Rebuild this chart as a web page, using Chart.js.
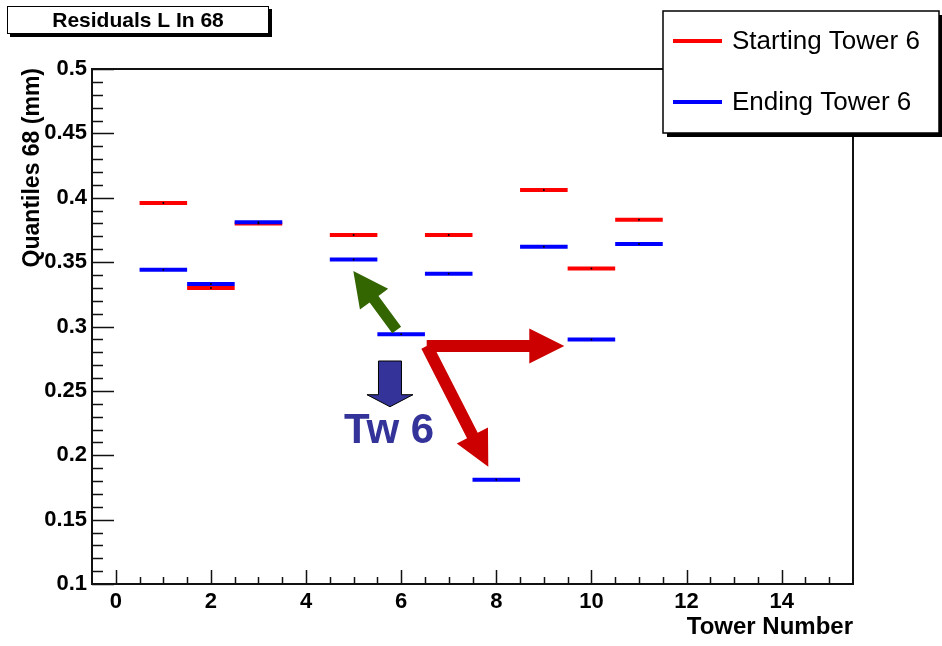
<!DOCTYPE html>
<html>
<head>
<meta charset="utf-8">
<script src="https://cdn.jsdelivr.net/npm/chart.js@4.4.1/dist/chart.umd.min.js"></script>
<style>
  body { margin: 0; background: #fff; }
  canvas { display: block; }
</style>
</head>
<body>
<canvas id="chart" width="942" height="646"></canvas>
<script>
// Tower bins (one bin per tower, width 1)
const towers = [0, 1, 2, 3, 4, 5, 6, 7, 8, 9, 10, 11, 12, 13, 14, 15];
const startingTower6 = [null, 0.396, 0.330, 0.380, null, 0.371, null, 0.371, null, 0.406, 0.345, 0.383, null, null, null, null];
const endingTower6 = [null, 0.344, 0.333, 0.381, null, 0.352, 0.294, 0.341, 0.181, 0.362, 0.290, 0.364, null, null, null, null];

// Axis tick labels
const xTickValues = [0, 2, 4, 6, 8, 10, 12, 14];
const yTickValues = [0.1, 0.15, 0.2, 0.25, 0.3, 0.35, 0.4, 0.45, 0.5];

const FONT = '"Liberation Sans", Arial, Helvetica, sans-serif';

// Build horizontal bin segments (gap between bins via null points)
function binSegments(values) {
    const pts = [];
    towers.forEach((t, i) => {
        if (values[i] == null) return;
        pts.push({ x: t - 0.5, y: values[i] });
        pts.push({ x: t + 0.5, y: values[i] });
        pts.push({ x: t + 0.5, y: null });
    });
    return pts;
}

function binCenters(values) {
    return towers.map((t, i) => ({ x: t, y: values[i] })).filter(p => p.y != null);
}

function arrow(ctx, x0, y0, x1, y1, shaft, headLen, headHalf, fill, stroke) {
    const dx = x1 - x0, dy = y1 - y0;
    const len = Math.hypot(dx, dy);
    const ux = dx / len, uy = dy / len;
    const nx = -uy, ny = ux;
    const bx = x1 - ux * headLen, by = y1 - uy * headLen;
    const s = shaft / 2;
    ctx.beginPath();
    ctx.moveTo(x0 + nx * s, y0 + ny * s);
    ctx.lineTo(bx + nx * s, by + ny * s);
    ctx.lineTo(bx + nx * headHalf, by + ny * headHalf);
    ctx.lineTo(x1, y1);
    ctx.lineTo(bx - nx * headHalf, by - ny * headHalf);
    ctx.lineTo(bx - nx * s, by - ny * s);
    ctx.lineTo(x0 - nx * s, y0 - ny * s);
    ctx.closePath();
    ctx.fillStyle = fill;
    ctx.fill();
    if (stroke) {
        ctx.strokeStyle = stroke;
        ctx.lineWidth = 1;
        ctx.stroke();
    }
}

// Frame, inside ticks, annotations, title box, legend, axis titles
const rootStyle = {
    id: 'rootStyle',
    afterDraw(chart) {
        const ctx = chart.ctx;
        const area = chart.chartArea;
        const xs = chart.scales.x, ys = chart.scales.y;
        ctx.save();

        // frame
        ctx.strokeStyle = '#111';
        ctx.lineWidth = 2;
        ctx.strokeRect(area.left, area.top, area.right - area.left, area.bottom - area.top);

        // y ticks (inside)
        ctx.lineWidth = 1.5;
        ctx.beginPath();
        for (let k = 10; k <= 50; k++) {
            const py = Math.round(ys.getPixelForValue(k / 100)) + 0.5;
            const len = k % 5 === 0 ? 22 : 11;
            ctx.moveTo(area.left, py);
            ctx.lineTo(area.left + len, py);
        }
        // x ticks (inside)
        for (let k = 0; k <= 30; k++) {
            const v = k / 2;
            const px = Math.round(xs.getPixelForValue(v)) + 0.5;
            const len = v % 2 === 0 ? 14 : 7;
            ctx.moveTo(px, area.bottom);
            ctx.lineTo(px, area.bottom - len);
        }
        ctx.stroke();

        // annotations
        const X = v => xs.getPixelForValue(v), Y = v => ys.getPixelForValue(v);
        arrow(ctx, X(5.906), Y(0.2973), X(4.994), Y(0.3431), 11, 35, 17.5, '#336600');
        arrow(ctx, X(6.537), Y(0.2849), X(9.43), Y(0.2849), 12, 35, 17.5, '#cc0000');
        arrow(ctx, X(6.537), Y(0.2849), X(7.832), Y(0.1911), 12, 35, 17.5, '#cc0000');
        arrow(ctx, X(5.765), Y(0.2732), X(5.765), Y(0.2377), 23, 12, 23, '#333399', '#000');
        ctx.fillStyle = '#333399';
        ctx.font = 'bold 42px ' + FONT;
        ctx.textAlign = 'left';
        ctx.textBaseline = 'alphabetic';
        ctx.fillText('Tw 6', X(4.798), Y(0.2095));

        // title box
        ctx.fillStyle = '#000';
        ctx.fillRect(10, 9, 262, 28);
        ctx.fillStyle = '#fff';
        ctx.fillRect(7, 6, 262, 28);
        ctx.strokeStyle = '#000';
        ctx.lineWidth = 1;
        ctx.strokeRect(7.5, 6.5, 261, 27);
        ctx.fillStyle = '#000';
        ctx.font = 'bold 21px ' + FONT;
        ctx.textAlign = 'center';
        ctx.textBaseline = 'middle';
        ctx.fillText('Residuals L In 68', 138, 21);

        // legend box
        const lx = 663, ly = 11, lw = 276, lh = 122;
        ctx.fillStyle = '#000';
        ctx.fillRect(lx + 4, ly + 4, lw, lh);
        ctx.fillStyle = '#fff';
        ctx.fillRect(lx, ly, lw, lh);
        ctx.strokeStyle = '#000';
        ctx.lineWidth = 1.5;
        ctx.strokeRect(lx, ly, lw, lh);
        const entries = chart.data.datasets.filter(d => d.label).sort((a, b) => a.legendIndex - b.legendIndex);
        entries.forEach((d, i) => {
            const ey = 41 + i * 61;
            ctx.strokeStyle = d.borderColor;
            ctx.lineWidth = 4;
            ctx.beginPath();
            ctx.moveTo(673, ey);
            ctx.lineTo(722, ey);
            ctx.stroke();
            ctx.fillStyle = '#000';
            ctx.font = '26px ' + FONT;
            ctx.textAlign = 'left';
            ctx.textBaseline = 'middle';
            ctx.fillText(d.label, 732, ey + 1);
        });

        // axis titles
        ctx.fillStyle = '#000';
        ctx.font = 'bold 24px ' + FONT;
        ctx.textAlign = 'right';
        ctx.textBaseline = 'alphabetic';
        ctx.fillText('Tower Number', area.right, 634);
        ctx.save();
        ctx.translate(39, area.top - 1);
        ctx.rotate(-Math.PI / 2);
        ctx.font = 'bold 23px ' + FONT;
        ctx.textAlign = 'right';
        ctx.fillText('Quantiles 68 (mm)', 0, 0);
        ctx.restore();

        ctx.restore();
    }
};

const ctx = document.getElementById('chart').getContext('2d');
const chart = new Chart(ctx, {
    type: 'line',
    data: {
        datasets: [
            {
                label: 'Ending Tower 6',
                legendIndex: 1,
                data: binSegments(endingTower6),
                borderColor: '#0000ff',
                borderWidth: 4,
                borderCapStyle: 'butt',
                pointRadius: 0,
                spanGaps: false,
                order: 2
            },
            {
                label: 'Starting Tower 6',
                legendIndex: 0,
                data: binSegments(startingTower6),
                borderColor: '#ff0000',
                borderWidth: 4,
                borderCapStyle: 'butt',
                pointRadius: 0,
                spanGaps: false,
                order: 3
            },
            {
                data: binCenters(endingTower6),
                showLine: false,
                pointRadius: 1,
                pointBorderWidth: 0,
                pointBackgroundColor: '#000',
                order: 0
            },
            {
                data: binCenters(startingTower6),
                showLine: false,
                pointRadius: 1,
                pointBorderWidth: 0,
                pointBackgroundColor: '#000',
                order: 1
            }
        ]
    },
    options: {
        responsive: false,
        animation: false,
        layout: { padding: { top: 69, right: 89, left: 0, bottom: 0 } },
        plugins: {
            legend: { display: false },
            title: { display: false },
            tooltip: { enabled: false }
        },
        scales: {
            x: {
                type: 'linear',
                min: -0.5,
                max: 15.5,
                grid: { display: false, drawTicks: false },
                border: { display: false },
                afterBuildTicks: scale => { scale.ticks = xTickValues.map(v => ({ value: v })); },
                afterFit: scale => { scale.height = 62; },
                ticks: {
                    color: '#000',
                    padding: 5,
                    maxRotation: 0,
                    font: { family: FONT, size: 22, weight: 'bold' },
                    callback: v => String(v)
                }
            },
            y: {
                type: 'linear',
                min: 0.1,
                max: 0.5,
                grid: { display: false, drawTicks: false },
                border: { display: false },
                afterBuildTicks: scale => { scale.ticks = yTickValues.map(v => ({ value: v })); },
                afterFit: scale => { scale.width = 92; },
                ticks: {
                    color: '#000',
                    padding: 5,
                    font: { family: FONT, size: 22, weight: 'bold' },
                    callback: v => String(+v.toFixed(2))
                }
            }
        }
    },
    plugins: [rootStyle]
});
</script>
</body>
</html>
